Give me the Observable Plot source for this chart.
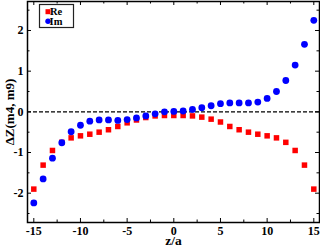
<!DOCTYPE html>
<html>
<head>
<meta charset="utf-8">
<script src="https://cdn.jsdelivr.net/npm/d3@7"></script>
<script src="https://cdn.jsdelivr.net/npm/@observablehq/plot@0.6"></script>
<style>
  html, body { margin: 0; padding: 0; background: #fff; }
</style>
</head>
<body>
<div id="chart"></div>
<script>
const z = [-15,-14,-13,-12,-11,-10,-9,-8,-7,-6,-5,-4,-3,-2,-1,0,1,2,3,4,5,6,7,8,9,10,11,12,13,14,15];
const reValues = [-1.90,-1.31,-0.95,-0.75,-0.64,-0.59,-0.55,-0.50,-0.44,-0.36,-0.27,-0.20,-0.14,-0.10,-0.09,-0.09,-0.09,-0.10,-0.13,-0.18,-0.25,-0.36,-0.44,-0.50,-0.55,-0.59,-0.64,-0.75,-0.95,-1.31,-1.90];
const imValues = [-2.24,-1.65,-1.14,-0.76,-0.49,-0.33,-0.23,-0.20,-0.20,-0.21,-0.19,-0.15,-0.10,-0.05,0.00,0.01,0.02,0.06,0.10,0.15,0.20,0.22,0.22,0.22,0.24,0.33,0.50,0.77,1.15,1.66,2.25];
const xMajor = [-15,-10,-5,0,5,10,15];
const xMinor = [-12.5,-7.5,-2.5,2.5,7.5,12.5];
const yMajor = [-2,-1,0,1,2];
const yMinor = [-2.5,-1.5,-0.5,0.5,1.5,2.5];
const seriesNames = ["Re", "Im"];
const seriesColors = ["#ff0000", "#0000ff"];
const xLabel = "z/a";
const yLabel = "ΔZ(m4, m9)";

const W = 320, H = 247;
const mL = 27, mR = 1, mT = 1, mB = 25;
const innerW = W - mL - mR, innerH = H - mT - mB;
const fmt = d => String(d);

const reData = z.map((v, i) => ({z: v, value: reValues[i]}));
const imData = z.map((v, i) => ({z: v, value: imValues[i]}));

const plot = Plot.plot({
  width: W, height: H,
  marginLeft: mL, marginRight: mR, marginTop: mT, marginBottom: mB,
  style: {fontFamily: "'Liberation Serif', 'Times New Roman', serif", fontWeight: "bold", fontSize: "12px", background: "#fff", color: "#000"},
  x: {domain: [-15.675, 15.61]},
  y: {domain: [-2.721, 2.713]},
  marks: [
    Plot.ruleY([0], {stroke: "black", strokeWidth: 1.1, strokeDasharray: "4,2"}),
    Plot.ruleX(xMajor, {stroke: "black", insetTop: innerH - 4}),
    Plot.ruleX(xMinor, {stroke: "black", insetTop: innerH - 2.5}),
    Plot.ruleX(xMajor, {stroke: "black", insetBottom: innerH - 4}),
    Plot.ruleX(xMinor, {stroke: "black", insetBottom: innerH - 2.5}),
    Plot.ruleY(yMajor, {stroke: "black", insetRight: innerW - 4}),
    Plot.ruleY(yMinor, {stroke: "black", insetRight: innerW - 2.5}),
    Plot.ruleY(yMajor, {stroke: "black", insetLeft: innerW - 4}),
    Plot.ruleY(yMinor, {stroke: "black", insetLeft: innerW - 2.5}),
    Plot.dot(reData, {x: "z", y: "value", symbol: "square", r: 3.1, fill: seriesColors[0], stroke: "none"}),
    Plot.dot(imData, {x: "z", y: "value", symbol: "circle", r: 3.4, fill: seriesColors[1], stroke: "none"}),
    Plot.axisX({ticks: xMajor, tickSize: 0, tickPadding: 4, tickFormat: fmt, label: null}),
    Plot.axisY({ticks: yMajor, tickSize: 0, tickPadding: 4, tickFormat: fmt, label: null}),
    Plot.frame({stroke: "black", strokeWidth: 1.5}),
    Plot.text([xLabel], {frameAnchor: "bottom", textAnchor: "middle", lineAnchor: "bottom", dy: 22.5, fontSize: 13.5}),
    Plot.text([yLabel], {frameAnchor: "left", textAnchor: "middle", lineAnchor: "bottom", rotate: -90, dx: -14, fontSize: 13})
  ]
});

document.getElementById("chart").appendChild(plot);

// Legend inside the plot (top-left)
const ns = "http://www.w3.org/2000/svg";
const g = document.createElementNS(ns, "g");
g.setAttribute("font-size", "10.5");
g.setAttribute("font-weight", "bold");
g.setAttribute("font-family", "'Liberation Serif', 'Times New Roman', serif");
plot.appendChild(g);
d3.select(g).append("rect")
  .attr("x", 39.5).attr("y", 4.5).attr("width", 34).attr("height", 23)
  .attr("fill", "#ffffff").attr("stroke", "#222222").attr("stroke-width", 1.2);
d3.select(g).append("rect").attr("x", 45.5).attr("y", 9.2).attr("width", 5).attr("height", 5).attr("fill", seriesColors[0]);
d3.select(g).append("circle").attr("cx", 48).attr("cy", 21.3).attr("r", 2.7).attr("fill", seriesColors[1]);
d3.select(g).append("text").attr("x", 56).attr("y", 14.6).attr("fill", "#000").text(seriesNames[0]);
d3.select(g).append("text").attr("x", 56).attr("y", 24.8).attr("fill", "#000").text(seriesNames[1]);
</script>
</body>
</html>
